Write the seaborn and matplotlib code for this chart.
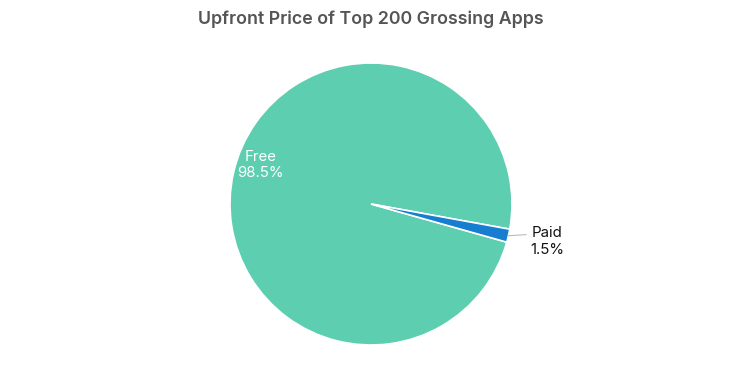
import numpy as np
import matplotlib.pyplot as plt
import seaborn as sns

categories = ['Free', 'Paid']
shares = [98.5, 1.5]
colors = ['#5DCEB0', '#167DD0']

sns.set_theme(style='white')
plt.rcParams['font.family'] = ['Inter', 'DejaVu Sans']

fig = plt.figure(figsize=(7.42, 3.78), dpi=100)
W, H = 742, 378
cx, cy, r = 371, 204, 141
ax = fig.add_axes([(cx - r) / W, (H - cy - r) / H, 2 * r / W, 2 * r / H])

start = -10.3
wedges, _ = ax.pie(shares, colors=colors, startangle=start, counterclock=True,
                   wedgeprops=dict(edgecolor='white', linewidth=1.2))
ax.set_xlim(-1, 1)
ax.set_ylim(-1, 1)
ax.set_aspect('equal')
ax.axis('off')

# inside label for Free
a = np.deg2rad(160.5)
ax.text(0.83 * np.cos(a), 0.83 * np.sin(a), f'{categories[0]}\n{shares[0]}%',
        ha='center', va='center', color='white', fontsize=10.8, linespacing=1.25)

# outside label for Paid with connector
mid = start + 360 * (1 - shares[1] / 100 / 2)
m = np.deg2rad(mid)
ax.plot([1.0 * np.cos(m), 1.13 * np.cos(m)], [1.0 * np.sin(m), 1.1 * np.sin(m) + 0.03],
        color='#bbbbbb', linewidth=0.8, clip_on=False)
ax.text(1.28 * np.cos(m), 1.27 * np.sin(m) + 0.02, f'{categories[1]}\n{shares[1]}%',
        ha='center', va='center', color='#111111', fontsize=10.8, linespacing=1.25)

fig.text(0.5, 1 - 19 / H, 'Upfront Price of Top 200 Grossing Apps', ha='center', va='center',
         fontsize=12.8, fontweight='semibold', color='#555555')

fig.savefig('out.png', dpi=100)
